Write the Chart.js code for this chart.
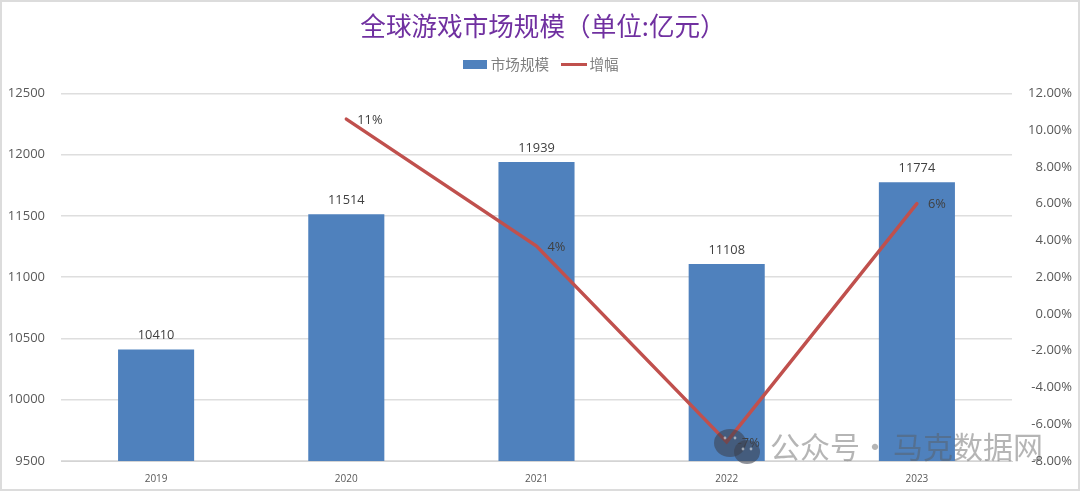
<!DOCTYPE html>
<html>
<head>
<meta charset="utf-8">
<style>
  html, body { margin: 0; padding: 0; background: #fff; }
  #wrap { position: relative; width: 1080px; height: 491px; }
  #wrap::after { content: ""; position: absolute; inset: 0; border: 2px solid #dcdcdc; box-sizing: border-box; pointer-events: none; }
</style>
<script src="https://cdn.jsdelivr.net/npm/chart.js@4"></script>
</head>
<body>
<div id="wrap"><canvas id="chart" width="1080" height="491"></canvas></div>
<script>
const years = ["2019", "2020", "2021", "2022", "2023"];
const marketSize = [10410, 11514, 11939, 11108, 11774];
const growth = [null, 10.6, 3.69, -6.96, 6.0];
const growthLabels = [null, "11%", "4%", "-7%", "6%"];

const BAR_COLOR = "#4f81bd";
const LINE_COLOR = "#c0504d";
const GRID_COLOR = "#dedede";
const NUM_FONT = '"Open Sans", sans-serif';
const CJK_FONT = '"Noto Sans CJK SC", sans-serif';

// legend swatches differ in size, so hand Chart.js small canvases as point styles
function swatch(w, h, color) {
  const c = document.createElement("canvas");
  c.width = w;
  c.height = h;
  const g = c.getContext("2d");
  g.fillStyle = color;
  g.fillRect(0, 0, w, h);
  return c;
}

// extra room under the legend, and title/legend nudged right of the canvas centre
const headerLayout = {
  id: "headerLayout",
  beforeLayout(chart) {
    if (chart.legend && !chart.legend.gapSet) {
      const fit = chart.legend.fit;
      chart.legend.fit = function () {
        fit.call(this);
        this.height += 12;
      };
      chart.legend.gapSet = true;
    }
  },
  afterLayout(chart) {
    chart.titleBlock.left += 14;
    chart.legend.left += 14;
  },
};

const valueLabels = {
  id: "valueLabels",
  afterDatasetsDraw(chart) {
    const { ctx } = chart;
    ctx.save();
    ctx.font = "12.8px " + NUM_FONT;
    ctx.fillStyle = "#404040";
    ctx.textBaseline = "middle";
    ctx.textAlign = "center";
    chart.getDatasetMeta(0).data.forEach((bar, i) => {
      ctx.fillText(marketSize[i], bar.x, bar.y - 14);
    });
    ctx.textAlign = "left";
    chart.getDatasetMeta(1).data.forEach((pt, i) => {
      if (growthLabels[i]) ctx.fillText(growthLabels[i], pt.x + 11, pt.y + 1);
    });
    ctx.restore();
  },
};

// the WeChat account watermark stamped over the lower right corner
const watermark = {
  id: "watermark",
  afterDraw(chart) {
    const { ctx } = chart;
    ctx.save();
    ctx.fillStyle = "rgba(60,66,80,0.58)";
    ctx.beginPath();
    ctx.ellipse(730, 443, 16, 14, 0, 0, Math.PI * 2);
    ctx.fill();
    ctx.beginPath();
    ctx.ellipse(747, 452, 13, 12, 0, 0, Math.PI * 2);
    ctx.fill();
    ctx.fillStyle = "rgba(255,255,255,0.5)";
    [[725, 438], [735, 438], [743, 449], [751, 449]].forEach(([x, y]) => {
      ctx.beginPath();
      ctx.arc(x, y, 1.4, 0, Math.PI * 2);
      ctx.fill();
    });
    ctx.fillStyle = "rgba(90,90,90,0.45)";
    ctx.font = "30px " + CJK_FONT;
    ctx.textBaseline = "middle";
    ctx.textAlign = "left";
    ctx.fillText("公众号", 770, 447);
    ctx.fillText("·", 860, 447);
    ctx.fillText("马克数据网", 893, 447);
    ctx.restore();
  },
};

new Chart(document.getElementById("chart"), {
  data: {
    labels: years,
    datasets: [
      {
        type: "bar",
        label: "市场规模",
        data: marketSize,
        backgroundColor: BAR_COLOR,
        categoryPercentage: 0.4,
        barPercentage: 1,
        yAxisID: "y",
        order: 2,
      },
      {
        type: "line",
        label: "增幅",
        data: growth,
        borderColor: LINE_COLOR,
        borderWidth: 3.4,
        borderCapStyle: "round",
        pointRadius: 0,
        tension: 0,
        yAxisID: "y1",
        order: 1,
      },
    ],
  },
  options: {
    responsive: false,
    animation: false,
    layout: { padding: { top: 6, right: 8, bottom: 4, left: 0 } },
    plugins: {
      title: {
        display: true,
        text: "全球游戏市场规模（单位:亿元）",
        color: "#7030a0",
        font: { family: CJK_FONT, size: 25.6, weight: "normal" },
        padding: { top: 5, bottom: -2 },
      },
      legend: {
        position: "top",
        labels: {
          usePointStyle: true,
          pointStyleWidth: 16,
          color: "#808080",
          font: { family: CJK_FONT, size: 14.6 },
          padding: 17,
          generateLabels: () => [
            { text: "市场规模", pointStyle: swatch(24, 9, BAR_COLOR), fontColor: "#808080", lineWidth: 0, strokeStyle: "transparent", fillStyle: BAR_COLOR },
            { text: "增幅", pointStyle: swatch(26, 3, LINE_COLOR), fontColor: "#808080", lineWidth: 0, strokeStyle: "transparent", fillStyle: LINE_COLOR },
          ],
        },
      },
      tooltip: { enabled: false },
    },
    scales: {
      x: {
        grid: { display: false },
        border: { display: true, color: "#d4d4d4", width: 1 },
        ticks: { color: "#595959", font: { family: NUM_FONT, size: 10 }, padding: 4, maxRotation: 0 },
        afterFit(axis) { axis.height = 26; },
      },
      y: {
        position: "left",
        min: 9500,
        max: 12500,
        grid: { color: GRID_COLOR, lineWidth: 1.4, drawTicks: false },
        border: { display: false },
        ticks: { stepSize: 500, color: "#595959", font: { family: NUM_FONT, size: 13 }, padding: 16, callback: (v) => String(v) },
        afterFit(axis) { axis.width = 61; },
      },
      y1: {
        position: "right",
        min: -8,
        max: 12,
        grid: { display: false, drawOnChartArea: false, drawTicks: false },
        border: { display: false },
        ticks: {
          stepSize: 2,
          color: "#595959",
          font: { family: NUM_FONT, size: 13 },
          crossAlign: "far",
          callback: (v) => v.toFixed(2) + "%",
        },
        afterFit(axis) { axis.width = 60; },
      },
    },
  },
  plugins: [headerLayout, valueLabels, watermark],
});
</script>
</body>
</html>
